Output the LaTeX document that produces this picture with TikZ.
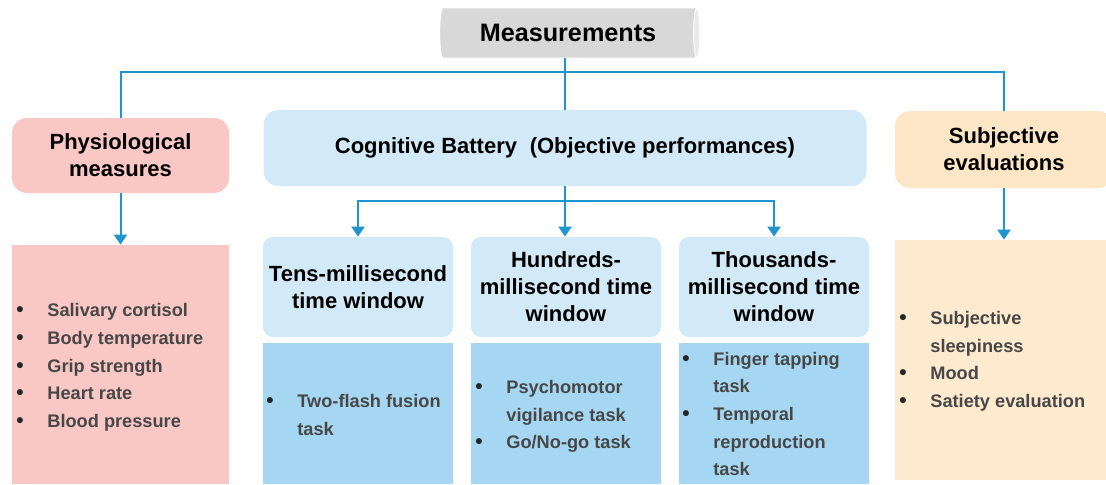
\documentclass[tikz,border=0pt]{standalone}
\usepackage{fontspec}
\setmainfont{Liberation Sans}
\usetikzlibrary{shapes.geometric, arrows.meta, positioning}
\usepackage{xcolor}
\definecolor{measgray}{HTML}{D8D8D8}
\definecolor{physpink}{HTML}{F9C7C4}
\definecolor{cogblue}{HTML}{D2EAF7}
\definecolor{listblue}{HTML}{A6D7F2}
\definecolor{subjtan}{HTML}{FDE6C6}
\definecolor{linkblue}{HTML}{1F95D0}
\definecolor{itemgray}{HTML}{474747}

% one bullet row of a list
\newcommand{\blt}{\textcolor{black!85}{\scalebox{1.15}{\textbullet}} &}

\begin{document}
\begin{tikzpicture}[
    x=0.5pt, y=-0.5pt,
    head/.style={rounded corners=7.5pt, align=center, inner sep=0pt, font=\fontsize{11}{13.5}\selectfont\bfseries},
    win/.style={head, rounded corners=5pt, fill=cogblue, minimum width=95pt, minimum height=50pt},
    listbox/.style={inner sep=0pt, minimum width=95pt},
    items/.style={anchor=west, inner sep=0pt, text=itemgray, font=\fontsize{9.1}{13.85}\selectfont\bfseries},
    link/.style={line width=1pt, linkblue},
    arr/.style={link, -{Triangle[length=5pt, width=6.5pt]}},
]
\useasboundingbox (0,0) rectangle (1106,484);

% Top node
\node[cylinder, shape border rotate=0, shape aspect=0.35, cylinder uses custom fill, cylinder body fill=measgray,
      cylinder end fill=measgray!55, draw=white, minimum width=25pt, minimum height=130pt,
      inner sep=0pt, font=\fontsize{12.6}{14}\selectfont\bfseries] (meas) at (568,33) {Measurements};

% Physiological branch
\node[head, fill=physpink, minimum width=108.5pt, minimum height=37.5pt] (phys) at (120.5,155.5) {Physiological\\measures};
\node[listbox, fill=physpink, minimum width=108.5pt, minimum height=119.5pt] (physlist) at (120.5,364.5) {};
\node[items] (physitems) at (16,366.5) {\begin{tabular}{@{}p{15.5pt}@{}l@{}}
  \blt Salivary cortisol\\ \blt Body temperature\\ \blt Grip strength\\ \blt Heart rate\\ \blt Blood pressure
\end{tabular}};

% Cognitive branch
\node[head, fill=cogblue, minimum width=301.5pt, minimum height=38pt] (cog) at (565,148) {Cognitive Battery\hspace{0.3em} (Objective performances)};
\node[win] (tens) at (358,287) {Tens-millisecond\\time window};
\node[win] (hund) at (566,287) {Hundreds-\\millisecond time\\window};
\node[win] (thou) at (774,287) {Thousands-\\millisecond time\\window};
\node[listbox, fill=listblue, minimum height=70.5pt] (tenslist) at (358,413.5) {};
\node[listbox, fill=listblue, minimum height=70.5pt] (hundlist) at (566,413.5) {};
\node[listbox, fill=listblue, minimum height=70.5pt] (thoulist) at (774,413.5) {};
\node[items] (tensitems) at (266,416) {\begin{tabular}{@{}p{15.5pt}@{}l@{}}
  \blt Two-flash fusion\\ & task
\end{tabular}};
\node[items] (hunditems) at (475,415.5) {\begin{tabular}{@{}p{15.5pt}@{}l@{}}
  \blt Psychomotor\\ & vigilance task\\ \blt Go/No-go task
\end{tabular}};
\node[items] (thouitems) at (682,415) {\begin{tabular}{@{}p{15.5pt}@{}l@{}}
  \blt Finger tapping\\ & task\\ \blt Temporal\\ & reproduction\\ & task
\end{tabular}};

% Subjective branch
\node[head, fill=subjtan, minimum width=109pt, minimum height=38.5pt] (subj) at (1004,149.5) {Subjective\\evaluations};
\node[listbox, fill=subjtan!85, minimum width=109pt, minimum height=120pt] (subjlist) at (1004,360) {};
\node[items] (subjitems) at (899,360.5) {\begin{tabular}{@{}p{15.5pt}@{}l@{}}
  \blt Subjective\\ & sleepiness\\ \blt Mood\\ \blt Satiety evaluation
\end{tabular}};

% Connectors
\coordinate (bus) at (565,72);
\coordinate (split) at (565,201);
\draw[link] (phys.north) |- (bus) -| (subj.north);
\draw[link] (cog.north |- meas.south) -- (cog.north);
\draw[arr] (phys.south) -- (physlist.north);
\draw[arr] (subj.south) -- (subjlist.north);
\draw[arr] (cog.south) -- (cog.south |- hund.north);
\draw[arr] (split) -| (tens.north);
\draw[arr] (split) -| (thou.north);

\end{tikzpicture}
\end{document}
